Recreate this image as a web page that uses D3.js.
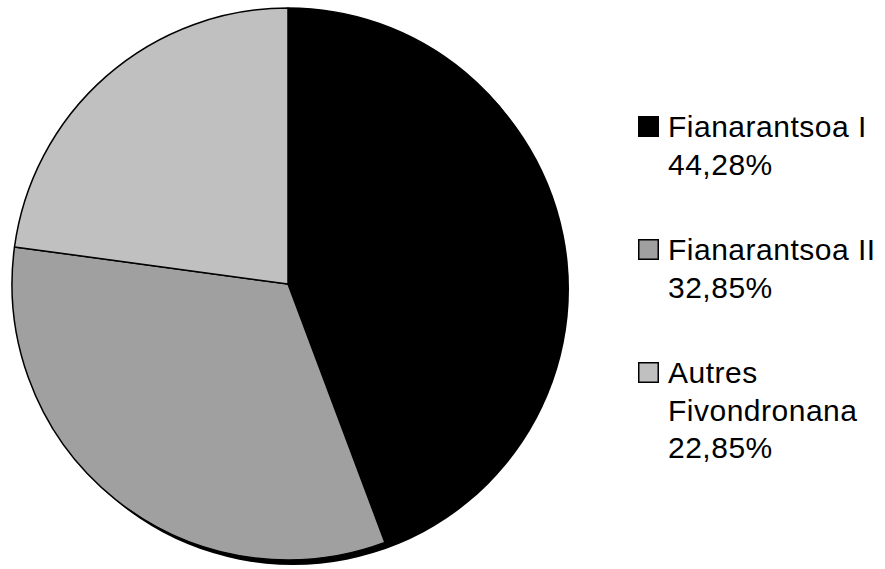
<!DOCTYPE html>
<html>
<head>
<meta charset="utf-8"/>
<script src="https://cdn.jsdelivr.net/npm/d3@7"></script>
<style>
  body { margin:0; background:#fff; }
  text { font-family: "Liberation Sans", Arial, sans-serif; }
</style>
</head>
<body>
<script>
// slice data (share of total, %)
var labels = [["Fianarantsoa I"], ["Fianarantsoa II"], ["Autres", "Fivondronana"]];
var values = [44.28, 32.85, 22.85];
var valueText = ["44,28%", "32,85%", "22,85%"];
var colors = ["#000000", "#a0a0a0", "#c0c0c0"];

var width = 885, height = 569;
var cx = 288, cy = 284, r = 276;

var svg = d3.select("body").append("svg")
   .attr("width", width).attr("height", height);

var pie = d3.pie().sort(null).value(function(d){ return d; });
var arc = d3.arc().innerRadius(0).outerRadius(r);

// drop shadow
svg.append("circle")
   .attr("cx", cx + 5).attr("cy", cy + 5).attr("r", r)
   .attr("fill", "#000");

var g = svg.append("g").attr("transform", "translate(" + cx + "," + cy + ")");
g.selectAll("path")
   .data(pie(values))
   .enter().append("path")
   .attr("d", arc)
   .attr("fill", function(d, i){ return colors[i]; })
   .attr("stroke", "#000")
   .attr("stroke-width", 1.5)
   .attr("stroke-linejoin", "round");

// legend
var lineH = 37.5;
var legend = svg.append("g").attr("transform", "translate(638,137)");
var item = legend.selectAll("g.item")
   .data(values)
   .enter().append("g")
   .attr("class", "item")
   .attr("transform", function(d, i){ return "translate(0," + (i * 123) + ")"; });

item.append("rect")
   .attr("x", 0.75).attr("y", -20.25)
   .attr("width", 19.5).attr("height", 19.5)
   .attr("fill", function(d, i){ return colors[i]; })
   .attr("stroke", "#000").attr("stroke-width", 1.5);

item.each(function(d, i){
   var t = d3.select(this).append("text")
      .attr("x", 30).attr("y", 0)
      .attr("font-size", "30px")
      .attr("letter-spacing", "0.5px")
      .attr("fill", "#000");
   var lines = labels[i].concat([valueText[i]]);
   lines.forEach(function(s, k){
      t.append("tspan").attr("x", 30).attr("y", k * lineH).text(s);
   });
});
</script>
</body>
</html>
